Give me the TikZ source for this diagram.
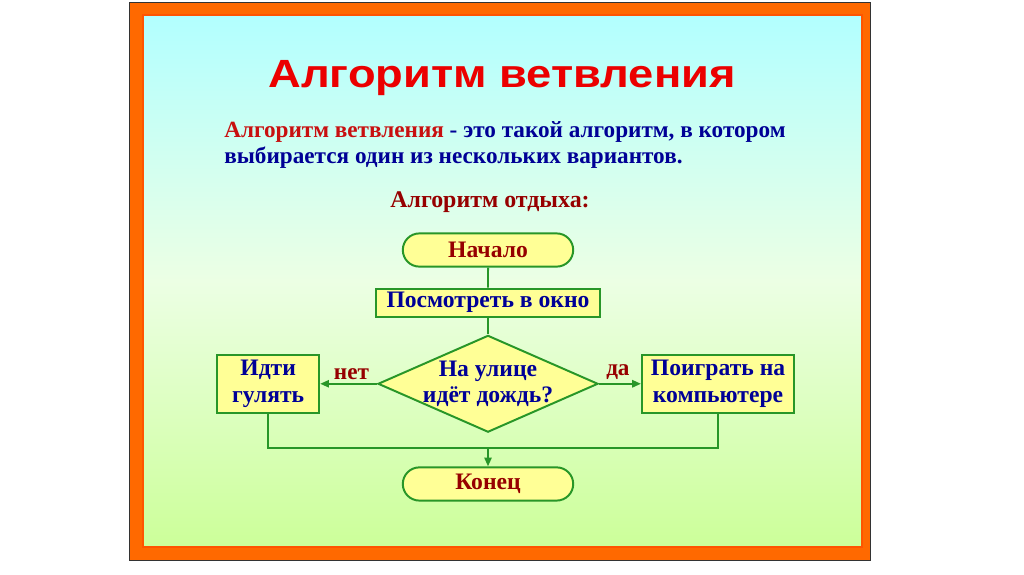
\documentclass[tikz,border=0pt]{standalone}
\usepackage{fontspec}
\setmainfont{Liberation Serif}
\newfontfamily\headfont[FakeStretch=1.15]{Liberation Sans}
\usetikzlibrary{calc,arrows.meta,positioning,shapes.geometric,shapes.misc}
\definecolor{headred}{RGB}{235,0,0}
\definecolor{defred}{RGB}{200,16,16}
\definecolor{darkred}{RGB}{150,0,0}
\definecolor{navy}{RGB}{0,0,150}
\definecolor{linegreen}{RGB}{40,150,40}
\definecolor{boxfill}{RGB}{255,255,150}
\definecolor{skytop}{RGB}{178,255,255}
\definecolor{skymid}{RGB}{236,255,228}
\definecolor{skybot}{RGB}{204,255,153}
\definecolor{frameA}{RGB}{255,105,0}
\definecolor{frameB}{RGB}{255,185,0}
\tikzset{
  block/.style={draw=linegreen, line width=1.4pt, fill=boxfill, align=center,
    inner sep=2pt, font=\fontsize{16.8}{19}\selectfont\bfseries},
  terminal/.style={block, rounded rectangle, minimum width=4.4cm,
    minimum height=0.83cm, text=darkred},
  action/.style={block, minimum height=0.7cm, text=navy},
  decision/.style={block, diamond, aspect=2.28, inner sep=-3pt,
    minimum width=5.5cm, minimum height=2.42cm, text=navy},
  link/.style={draw=linegreen, line width=1.4pt},
  arr/.style={link, -{Triangle[length=2.2mm,width=1.8mm]}},
  lbl/.style={text=darkred, font=\fontsize{16.5}{19}\selectfont\bfseries, inner sep=2pt}
}

\begin{document}
\begin{tikzpicture}[x=0.025cm, y=-0.025cm]
  \useasboundingbox (0,0) rectangle (1024,574);
  \fill[white] (0,0) rectangle (1024,574);
  % slide frame
  \shade[left color=frameA, middle color=frameB, right color=frameA,
    draw=black!80, line width=0.5pt] (129,2) rectangle (870,560);
  \shade[top color=skytop, bottom color=skybot, middle color=skymid,
    draw=frameA!80!red, line width=1pt] (143,15) rectangle (862,547);

  \node[font=\headfont\fontsize{28}{30}\selectfont\bfseries, text=headred] (title) at (502,78) {Алгоритм ветвления};
  \node[anchor=north west, align=left, inner sep=0pt, text=navy,
    font=\fontsize{16.5}{18.5}\selectfont\bfseries] (def) at (224,121)
    {\textcolor{defred}{Алгоритм ветвления} - это такой алгоритм, в котором\\выбирается один из нескольких вариантов.};
  \node[text=darkred, font=\fontsize{17}{19}\selectfont\bfseries] (rest) at (490,202) {Алгоритм отдыха:};

  % flowchart
  \node[terminal] (start) at (488,250) {Начало};
  \node[action, minimum width=5.6cm, below=0.5cm of start] (look) {Посмотреть в окно};
  \node[decision, below=0.42cm of look] (rain) {На улице\\идёт дождь?};
  \node[action, minimum width=2.55cm, minimum height=1.45cm, left=1.42cm of rain] (walk) {Идти\\гулять};
  \node[action, minimum width=3.8cm, minimum height=1.45cm, right=1.05cm of rain] (play) {Поиграть на\\компьютере};
  \node[terminal, below=0.83cm of rain] (stop) {Конец};
  \coordinate (join) at ($(rain.south)!0.45!(stop.north)$);

  \draw[link] (start) -- (look);
  \draw[link] (look) -- (rain);
  \draw[arr] (rain) -- node[lbl, above, pos=0.45] {нет} (walk);
  \draw[arr] (rain) -- node[lbl, above, pos=0.45] {да} (play);
  \draw[link] (walk.south) |- (join) -| (play.south);
  \draw[arr] (join) -- (stop);
\end{tikzpicture}
\end{document}
